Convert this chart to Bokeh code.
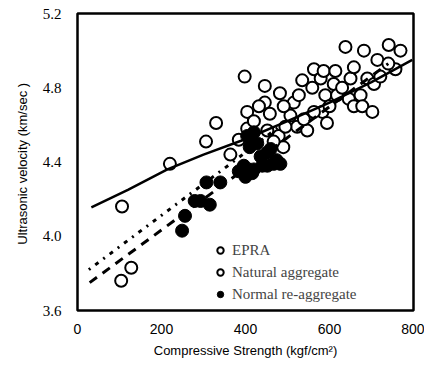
from bokeh.plotting import figure
from bokeh.models import Legend, LegendItem, FixedTicker, Range1d
from bokeh.embed import file_html
from bokeh.resources import INLINE

# EPRA (open circles)
epra_x = [106, 104, 128, 220, 306, 330, 398, 446, 482, 535, 563, 638, 682, 741, 769]
epra_y = [4.16, 3.76, 3.83, 4.39, 4.51, 4.61, 4.86, 4.81, 4.77, 4.84, 4.90, 5.02, 5.00, 5.03, 5.00]

# Natural aggregate (open circles)
nat_x = [364, 384, 404, 404, 446, 458, 479, 490, 507, 515, 527, 523, 547, 559, 579, 586,
         590, 583, 594, 614, 610, 618, 650, 658, 646, 658, 674, 678, 702, 690, 706, 714,
         757, 721, 452, 467, 491, 495, 539, 563, 420, 432, 600, 630, 740]
nat_y = [4.44, 4.52, 4.67, 4.58, 4.72, 4.66, 4.54, 4.48, 4.65, 4.72, 4.76, 4.59, 4.57, 4.80, 4.85, 4.89,
         4.76, 4.67, 4.61, 4.89, 4.82, 4.76, 4.85, 4.91, 4.74, 4.70, 4.76, 4.70, 4.67, 4.85, 4.82, 4.95,
         4.90, 4.86, 4.57, 4.51, 4.70, 4.59, 4.63, 4.67, 4.62, 4.70, 4.70, 4.80, 4.93]

# Normal re-aggregate (filled circles)
rec_x = [249, 256, 279, 293, 307, 315, 340, 384, 400, 416, 404, 420, 410, 428, 436, 440,
         452, 467, 483, 452, 460, 420, 396, 474]
rec_y = [4.03, 4.11, 4.19, 4.19, 4.29, 4.17, 4.29, 4.35, 4.32, 4.34, 4.54, 4.56, 4.48, 4.50, 4.43, 4.38,
         4.38, 4.39, 4.39, 4.45, 4.47, 4.36, 4.38, 4.41]

# regression curves
solid_x = [33, 120, 214, 300, 396, 500, 600, 700, 797]
solid_y = [4.155, 4.25, 4.36, 4.44, 4.52, 4.62, 4.72, 4.83, 4.95]
dot_x = [27, 364, 480]
dot_y = [3.82, 4.39, 4.59]
dash_x = [29, 740]
dash_y = [3.75, 4.93]

x_ticks = [0, 200, 400, 600, 800]
y_ticks = [3.6, 4.0, 4.4, 4.8, 5.2]

p = figure(width=424, height=366, output_backend="svg", toolbar_location=None,
           x_range=Range1d(0, 800), y_range=Range1d(3.6, 5.2),
           min_border_left=77, min_border_right=11, min_border_top=13, min_border_bottom=56)
p.grid.visible = False
p.outline_line_color = "black"
p.outline_line_width = 2.5
p.background_fill_color = "white"

for ax in (p.xaxis[0], p.yaxis[0]):
    ax.axis_line_color = None
    ax.major_tick_line_color = None
    ax.minor_tick_line_color = None
    ax.major_label_text_color = "black"
    ax.axis_label_text_color = "black"
    ax.axis_label_text_font_style = "normal"

p.xaxis.ticker = FixedTicker(ticks=x_ticks)
p.yaxis.ticker = FixedTicker(ticks=y_ticks)
p.yaxis.major_label_overrides = {v: f"{v:.1f}" for v in y_ticks}
p.xaxis.major_label_text_font = "Liberation Sans"
p.xaxis.major_label_text_font_size = "14px"
p.yaxis.major_label_text_font = "Liberation Serif"
p.yaxis.major_label_text_font_size = "15px"
p.xaxis.major_label_standoff = 7
p.yaxis.major_label_standoff = 10
p.xaxis.axis_label = "Compressive Strength (kgf/cm²)"
p.yaxis.axis_label = "Ultrasonic velocity (km/sec  )"
p.xaxis.axis_label_text_font = "Liberation Sans"
p.yaxis.axis_label_text_font = "Liberation Sans"
p.xaxis.axis_label_text_font_size = "13px"
p.yaxis.axis_label_text_font_size = "13px"
p.xaxis.axis_label_standoff = 6
p.yaxis.axis_label_standoff = 10

r_epra = p.scatter(epra_x, epra_y, size=12, marker="circle", fill_color="white",
                   line_color="black", line_width=2)
r_nat = p.scatter(nat_x, nat_y, size=12, marker="circle", fill_color="white",
                  line_color="black", line_width=2)
r_rec = p.scatter(rec_x, rec_y, size=13, marker="circle", fill_color="black",
                  line_color="black", line_width=1)

p.line(solid_x, solid_y, line_color="black", line_width=2.5)
p.line(dot_x, dot_y, line_color="black", line_width=3, line_dash="2 6 4 6")
p.line(dash_x, dash_y, line_color="black", line_width=3, line_dash="9 7")

legend = Legend(items=[LegendItem(label="EPRA", renderers=[r_epra]),
                       LegendItem(label="Natural aggregate", renderers=[r_nat]),
                       LegendItem(label="Normal re-aggregate", renderers=[r_rec])],
                location=(135, 5), padding=0, margin=0, spacing=0,
                label_height=22, glyph_height=22, glyph_width=16, label_standoff=4,
                border_line_color=None, background_fill_alpha=0,
                label_text_font="Liberation Serif", label_text_font_size="15px")
p.add_layout(legend, "center")

open("out.html", "w").write(file_html(p, INLINE))
